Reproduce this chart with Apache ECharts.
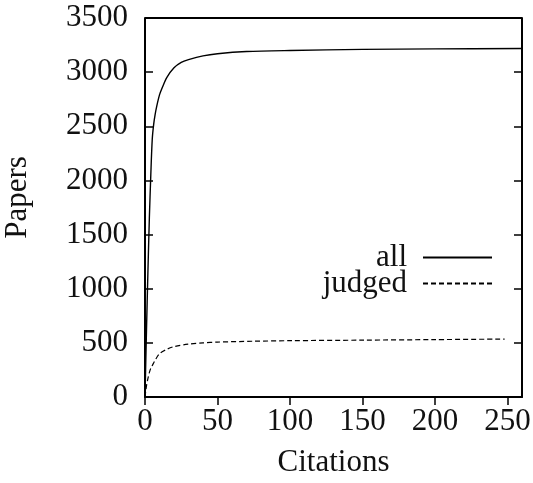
<!DOCTYPE html>
<html>
<head>
<meta charset="utf-8">
<script src="https://cdn.jsdelivr.net/npm/echarts@6/dist/echarts.min.js"></script>
<style>
  html, body { margin: 0; padding: 0; background: #fff; }
  #chart { width: 533px; height: 483px; }
</style>
</head>
<body>
<div id="chart"></div>
<script>
// cumulative paper counts vs. citation count
const allCitations = [0, 1, 2, 3, 4, 5, 6, 7, 8, 10, 12, 15, 20, 25, 30, 40, 50, 70, 100, 150, 200, 260];
const allPapers = [0, 600, 1150, 1650, 2050, 2380, 2520, 2610, 2680, 2790, 2860, 2950, 3040, 3090, 3115, 3150, 3170, 3190, 3200, 3210, 3215, 3218];

const judgedCitations = [0, 1, 2, 3, 4, 5, 7, 10, 15, 20, 30, 40, 50, 75, 100, 150, 200, 248];
const judgedPapers = [0, 100, 170, 225, 265, 290, 340, 400, 440, 465, 488, 500, 507, 515, 520, 525, 530, 535];

const seriesNames = ['all', 'judged'];

const font = 'Liberation Serif';
const fontSize = 31;

const zip = (xs, ys) => xs.map((x, i) => [x, ys[i]]);

const chart = echarts.init(document.getElementById('chart'));

function legendFor(name, top) {
  return {
    data: [name],
    right: 35, top: top,
    align: 'right',
    itemWidth: 69, itemHeight: 31,
    itemStyle: { opacity: 0 },
    textStyle: { fontFamily: font, fontSize: fontSize, color: '#111', padding: [0, 11, 0, 0] }
  };
}

const option = {
  animation: false,
  backgroundColor: '#fff',
  grid: { left: 145, right: 11, top: 18, bottom: 86, outerBoundsMode: 'none', containLabel: false },
  legend: [legendFor(seriesNames[0], 237), legendFor(seriesNames[1], 263)],
  xAxis: {
    type: 'value',
    min: 0, max: 260, interval: 50,
    name: 'Citations',
    nameLocation: 'middle',
    nameGap: 50,
    nameTextStyle: { fontFamily: font, fontSize: fontSize, color: '#111' },
    axisLine: { show: true, lineStyle: { color: '#000', width: 2 } },
    axisTick: { show: true, inside: false, length: 8, lineStyle: { color: '#000', width: 1.5 } },
    axisLabel: {
      fontFamily: font, fontSize: fontSize, color: '#111', margin: 9,
      showMaxLabel: false,
      formatter: v => (v % 50 === 0 ? String(v) : '')
    },
    splitLine: { show: false }
  },
  yAxis: [
    {
      type: 'value',
      min: 0, max: 3500, interval: 500,
      name: 'Papers',
      nameLocation: 'middle',
      nameGap: 112,
      nameRotate: 90,
      nameTextStyle: { fontFamily: font, fontSize: fontSize, color: '#111', padding: [0, 0, 0, 20] },
      axisLine: { show: true, lineStyle: { color: '#000', width: 2 } },
      axisTick: { show: true, inside: true, length: 8, lineStyle: { color: '#000', width: 1.5 } },
      axisLabel: { fontFamily: font, fontSize: fontSize, color: '#111', margin: 17, formatter: v => String(v) },
      splitLine: { show: false }
    },
    {
      type: 'value',
      position: 'right',
      min: 0, max: 3500, interval: 500,
      axisLine: { show: true, lineStyle: { color: '#000', width: 2 } },
      axisTick: { show: true, inside: true, length: 8, lineStyle: { color: '#000', width: 1.5 } },
      axisLabel: { show: false },
      splitLine: { show: false }
    }
  ],
  graphic: [
    {
      // top border of the frame
      type: 'line',
      shape: { x1: 145, y1: 18, x2: 522, y2: 18 },
      style: { stroke: '#000', lineWidth: 2 }
    }
  ],
  series: [
    {
      name: seriesNames[0],
      type: 'line',
      data: zip(allCitations, allPapers),
      smooth: 0.3,
      symbol: 'none',
      lineStyle: { color: '#000', width: 1.4, type: 'solid' },
      itemStyle: { color: '#000' }
    },
    {
      name: seriesNames[1],
      type: 'line',
      data: zip(judgedCitations, judgedPapers),
      smooth: 0.3,
      symbol: 'none',
      lineStyle: { color: '#000', width: 1.2, type: [5, 3] },
      itemStyle: { color: '#000' }
    }
  ]
};

chart.setOption(option);
</script>
</body>
</html>
